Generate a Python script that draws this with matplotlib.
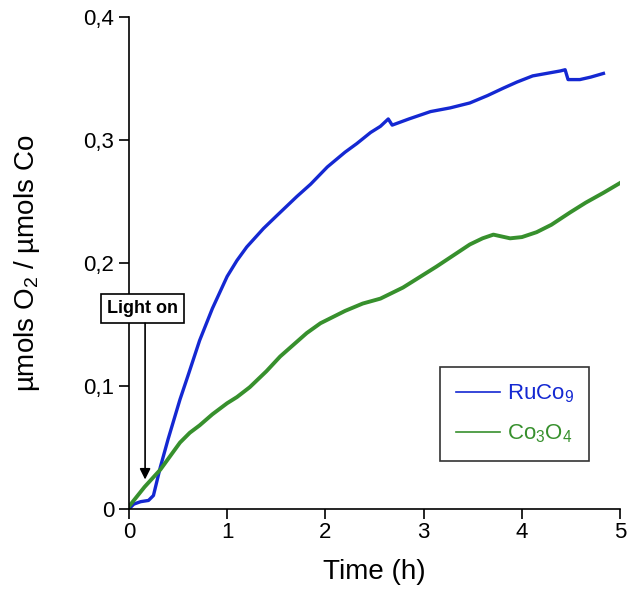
import matplotlib.pyplot as plt

plt.rcParams['font.family'] = ['Liberation Sans', 'DejaVu Sans']
plt.rcParams['mathtext.fontset'] = 'custom'
plt.rcParams['mathtext.rm'] = 'Liberation Sans'
plt.rcParams['mathtext.it'] = 'Liberation Sans'

# RuCo9 (blue)
t_ruco = [0.0, 0.05, 0.12, 0.2, 0.25, 0.32, 0.4, 0.52, 0.6, 0.72, 0.85, 1.0,
          1.1, 1.2, 1.37, 1.5, 1.71, 1.85, 2.02, 2.2, 2.32, 2.46, 2.56, 2.64,
          2.68, 2.85, 3.07, 3.27, 3.47, 3.65, 3.81, 3.95, 4.11, 4.25, 4.39,
          4.44, 4.47, 4.59, 4.7, 4.83]
v_ruco = [0.0, 0.004, 0.006, 0.007, 0.011, 0.034, 0.057, 0.089, 0.108, 0.137,
          0.163, 0.189, 0.202, 0.213, 0.228, 0.238, 0.254, 0.264, 0.278, 0.290,
          0.297, 0.306, 0.311, 0.317, 0.312, 0.317, 0.323, 0.326, 0.330, 0.336,
          0.342, 0.347, 0.352, 0.354, 0.356, 0.357, 0.349, 0.349, 0.351, 0.354]

# Co3O4 (green)
t_co = [0.0, 0.16, 0.32, 0.42, 0.52, 0.62, 0.72, 0.85, 1.0, 1.1, 1.23, 1.4,
        1.54, 1.81, 1.95, 2.05, 2.2, 2.38, 2.56, 2.79, 3.13, 3.3, 3.47, 3.6,
        3.71, 3.88, 4.0, 4.15, 4.3, 4.49, 4.65, 4.83, 5.0]
v_co = [0.002, 0.018, 0.032, 0.043, 0.054, 0.062, 0.068, 0.077, 0.086, 0.091,
        0.099, 0.112, 0.124, 0.143, 0.151, 0.155, 0.161, 0.167, 0.171, 0.180,
        0.197, 0.206, 0.215, 0.220, 0.223, 0.220, 0.221, 0.225, 0.231, 0.241,
        0.249, 0.257, 0.265]

x_ticks = [0, 1, 2, 3, 4, 5]
y_ticks = [0, 0.1, 0.2, 0.3, 0.4]
y_labels = ["0", "0,1", "0,2", "0,3", "0,4"]

blue = "#1428d2"
green = "#37902d"

fig = plt.figure(figsize=(6.38, 6.01), dpi=100)
ax = fig.add_axes([0.202, 0.153, 0.770, 0.819])

ax.plot(t_ruco, v_ruco, color=blue, lw=2.4, label="RuCo$_9$")
ax.plot(t_co, v_co, color=green, lw=2.8, label="Co$_3$O$_4$")

ax.set_xlim(0, 5)
ax.set_ylim(0, 0.4)
ax.set_xticks(x_ticks)
ax.set_yticks(y_ticks)
ax.set_yticklabels(y_labels)
ax.tick_params(direction="out", length=7, width=1.2, labelsize=16, colors="black")
ax.tick_params(axis="x", pad=2)
for s in ["top", "right"]:
    ax.spines[s].set_visible(False)
for s in ["left", "bottom"]:
    ax.spines[s].set_linewidth(1.2)

ax.set_xlabel("Time (h)", fontsize=20, labelpad=12)
ax.set_ylabel("µmols O$_2$ / µmols Co", fontsize=20, labelpad=30)

# "Light on" marker
ax.text(0.14, 0.163, "Light on", fontsize=13, fontweight="bold",
        ha="center", va="center", clip_on=False,
        bbox=dict(boxstyle="square,pad=0.35", fc="white", ec="black", lw=1.2))
ax.annotate("", xy=(0.165, 0.024), xytext=(0.165, 0.151),
            arrowprops=dict(arrowstyle="-|>", color="black", lw=1.2,
                            mutation_scale=16, shrinkA=0, shrinkB=0),
            annotation_clip=False)

leg = ax.legend(loc="lower right", bbox_to_anchor=(0.96, 0.075), fontsize=16,
                frameon=True, fancybox=False, edgecolor="black",
                handlelength=2.0, handletextpad=0.3, borderpad=0.7,
                labelspacing=0.8)
leg.get_frame().set_linewidth(1.2)
for txt, col in zip(leg.get_texts(), [blue, green]):
    txt.set_color(col)
for line in leg.get_lines():
    line.set_linewidth(1.2)

fig.savefig("out.png", dpi=100)
